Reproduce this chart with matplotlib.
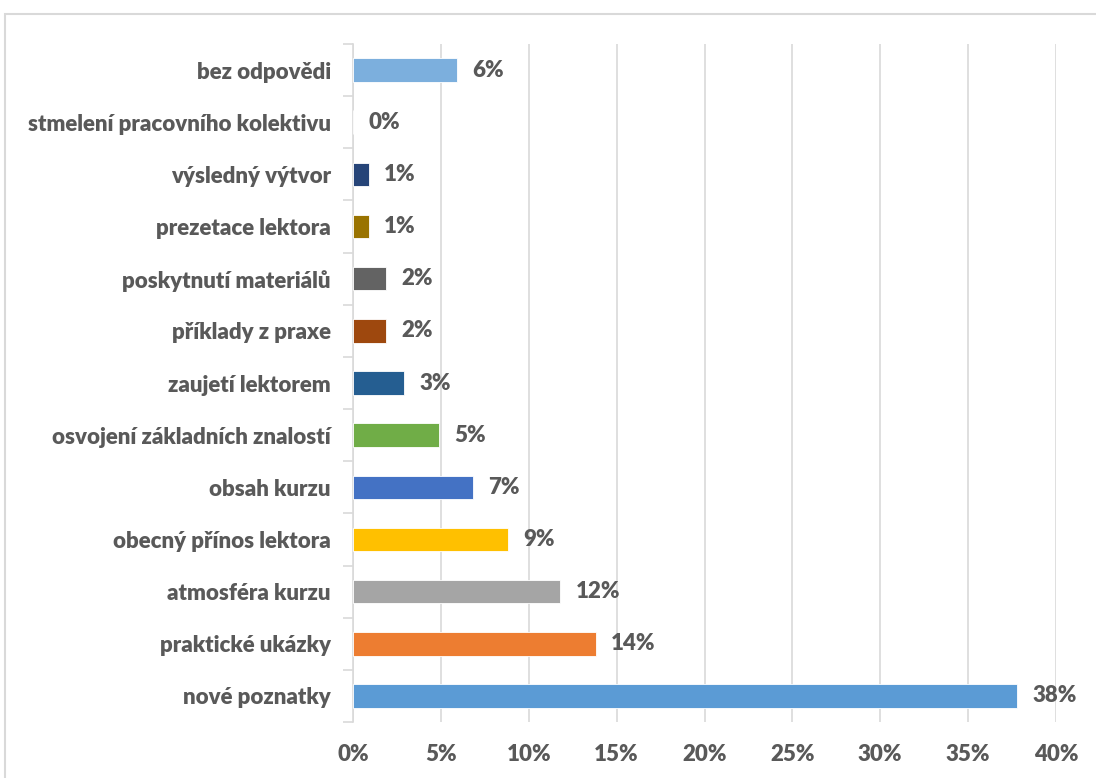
import matplotlib.pyplot as plt
from matplotlib.patches import Rectangle
from matplotlib.ticker import MultipleLocator, PercentFormatter

# Data (bottom to top as drawn)
categories = ["nové poznatky", "praktické ukázky", "atmosféra kurzu",
              "obecný přínos lektora", "obsah kurzu",
              "osvojení základních znalostí", "zaujetí lektorem",
              "příklady z praxe", "poskytnutí materiálů", "prezetace lektora",
              "výsledný výtvor", "stmelení pracovního kolektivu", "bez odpovědi"]
values = [37.8, 13.8, 11.8, 8.8, 6.8, 4.9, 2.9, 1.9, 1.9, 0.9, 0.9, 0.0, 5.9]
colors = ["#5B9BD5", "#ED7D31", "#A5A5A5", "#FFC000", "#4472C4", "#70AD47",
          "#255E91", "#9E480E", "#636363", "#997300", "#264478", "#43682B",
          "#7CAFDD"]

plt.rcParams['font.family'] = ['Lato', 'DejaVu Sans']
txt = "#595959"
grid = "#D9D9D9"
fs = 16

fig = plt.figure(figsize=(10.96, 7.78), dpi=100)
W, H = 1096, 778
ax = fig.add_axes([353 / W, 1 - 722 / H, (1056 - 353) / W, (722 - 44) / H])

# outer chart frame
fig.patches.append(Rectangle((5 / W, -0.05), 1.2, 1 - 14 / H + 0.05,
                             transform=fig.transFigure, fill=False,
                             edgecolor=grid, linewidth=1.5))

y = range(len(categories))
ax.barh(y, values, height=0.45, color=colors, edgecolor="white", linewidth=0.6,
        zorder=3)
for yi, v in zip(y, values):
    ax.annotate(f"{round(v)}%", (v, yi), xytext=(11, 0), textcoords="offset points",
                va="center", ha="left", fontsize=fs, fontweight="heavy", color=txt)

ax.set_xlim(0, 40)
ax.set_ylim(-0.5, len(categories) - 0.5)
ax.xaxis.set_major_locator(MultipleLocator(5))
ax.xaxis.set_major_formatter(PercentFormatter(decimals=0))
ax.set_yticks(list(y))
ax.set_yticklabels(categories)
ax.set_yticks([i - 0.5 for i in range(len(categories) + 1)], minor=True)
ax.tick_params(axis="y", which="major", length=0, pad=16, labelsize=fs,
               labelcolor=txt)
ax.tick_params(axis="y", which="minor", length=7, color=grid, width=1.2)
ax.tick_params(axis="x", length=0, pad=16, labelsize=fs, labelcolor=txt)
for lab in ax.get_xticklabels() + ax.get_yticklabels():
    lab.set_fontweight("heavy")

ax.grid(axis="x", color=grid, linewidth=1.2, zorder=0)
for s in ["top", "right", "bottom"]:
    ax.spines[s].set_visible(False)
ax.spines["left"].set_color(grid)
ax.spines["left"].set_linewidth(1.2)

fig.savefig("out.png", dpi=100)
